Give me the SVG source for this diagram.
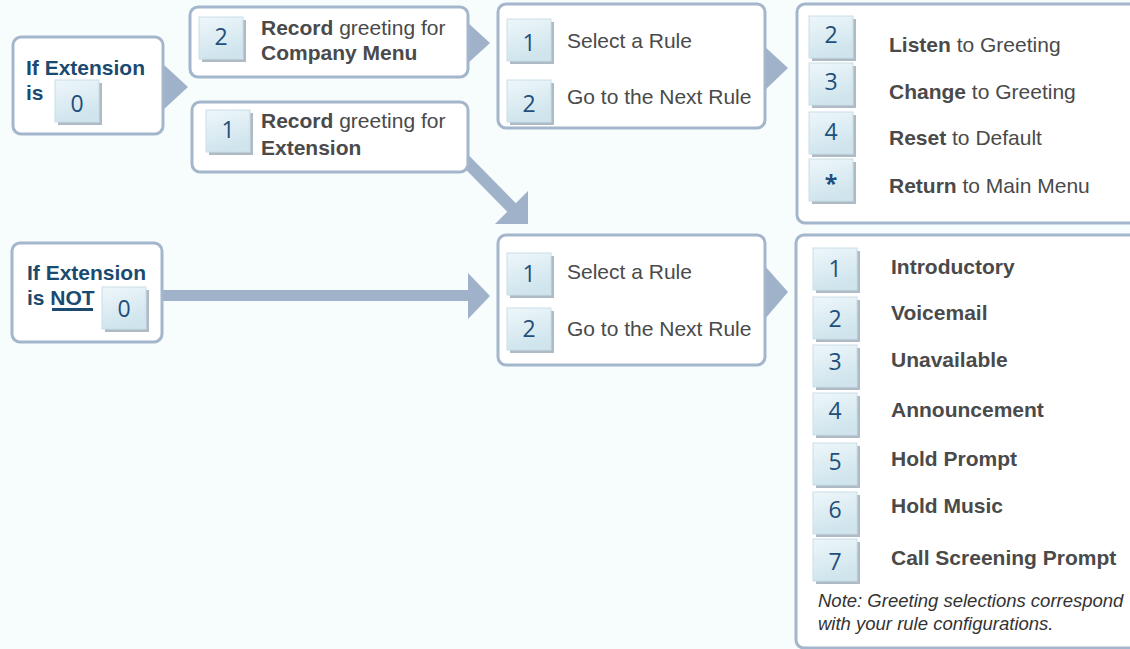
<svg xmlns="http://www.w3.org/2000/svg" width="1130" height="649" viewBox="0 0 1130 649">
<defs>
<linearGradient id="kg" x1="0" y1="0" x2="0.3" y2="1">
<stop offset="0" stop-color="#eef7fa"/>
<stop offset="1" stop-color="#cfe4ed"/>
</linearGradient>
<style>
.box{fill:#ffffff;stroke:#a3b6cc;stroke-width:3}
.arr{fill:#9fb2c9}
.ks{fill:#aebbc4}
.kf{fill:url(#kg);stroke:#c9dee7;stroke-width:1}
.kd{font-family:"Open Sans","DejaVu Sans",sans-serif;font-size:23px;fill:#1f4f7a;text-anchor:middle}
.hd{font-family:"Liberation Sans",Arial,sans-serif;font-size:21px;font-weight:bold;fill:#1b4a70}
.tx{font-family:"Liberation Sans",Arial,sans-serif;font-size:21px;fill:#4a4a4a}
.b{font-weight:bold}
.note{font-family:"Liberation Sans",Arial,sans-serif;font-size:18.5px;font-style:italic;fill:#333333}
</style>
<g id="key">
<rect class="ks" x="3" y="3" width="44" height="42"/>
<rect class="kf" x="0" y="0" width="44" height="42"/>
</g>
</defs>
<rect x="0" y="0" width="1130" height="649" fill="#f7fcfd"/>

<g id="connectors">
<polygon class="arr" points="163,64 188,87 163,110"/>
<polygon class="arr" points="467,22 490,43 467,64"/>
<polygon class="arr" points="764,46 788,68 764,91"/>
<rect class="arr" x="160" y="290" width="310" height="11"/>
<polygon class="arr" points="468,273 490,296 468,319"/>
<polygon class="arr" points="764,265 788,292 764,320"/>
<line x1="462" y1="157" x2="513" y2="209" stroke="#9fb2c9" stroke-width="12"/>
<polygon class="arr" points="495,224 528,224 528,191"/>
</g>

<g id="node-ext-is-0">
<rect class="box" x="13" y="37" width="150" height="97" rx="8"/>
<text class="hd" x="26" y="75">If Extension</text>
<text class="hd" x="26" y="100">is</text>
<use href="#key" x="55" y="80"/>
<text class="kd" x="77" y="112">0</text>
</g>

<g id="node-record-company">
<rect class="box" x="190" y="7" width="278" height="70" rx="8"/>
<use href="#key" x="199" y="17"/>
<text class="kd" x="221" y="45">2</text>
<text class="tx" x="261" y="35"><tspan class="b">Record</tspan> greeting for</text>
<text class="tx b" x="261" y="60">Company Menu</text>
</g>

<g id="node-record-extension">
<rect class="box" x="192" y="102" width="276" height="70" rx="8"/>
<use href="#key" x="206" y="110"/>
<text class="kd" x="228" y="138">1</text>
<text class="tx" x="261" y="128"><tspan class="b">Record</tspan> greeting for</text>
<text class="tx b" x="261" y="155">Extension</text>
</g>

<g id="node-rules-top">
<rect class="box" x="498" y="4" width="267" height="124" rx="8"/>
<use href="#key" x="507" y="19"/>
<text class="kd" x="529" y="51">1</text>
<use href="#key" x="507" y="80"/>
<text class="kd" x="529" y="112">2</text>
<text class="tx" x="567" y="48">Select a Rule</text>
<text class="tx" x="567" y="104">Go to the Next Rule</text>
</g>

<g id="node-greeting-options">
<rect class="box" x="797" y="4" width="340" height="219" rx="8"/>
<use href="#key" x="809" y="16"/>
<text class="kd" x="831" y="43">2</text>
<use href="#key" x="809" y="63"/>
<text class="kd" x="831" y="90">3</text>
<use href="#key" x="809" y="112"/>
<text class="kd" x="831" y="140">4</text>
<use href="#key" x="809" y="159"/>
<text class="kd" x="831" y="192" style="font-weight:bold">*</text>
<text class="tx" x="889" y="52"><tspan class="b">Listen</tspan> to Greeting</text>
<text class="tx" x="889" y="99"><tspan class="b">Change</tspan> to Greeting</text>
<text class="tx" x="889" y="145"><tspan class="b">Reset</tspan> to Default</text>
<text class="tx" x="889" y="193"><tspan class="b">Return</tspan> to Main Menu</text>
</g>

<g id="node-ext-not-0">
<rect class="box" x="12" y="243" width="150" height="99" rx="8"/>
<text class="hd" x="27" y="280">If Extension</text>
<text class="hd" x="27" y="305">is NOT</text>
<rect x="52" y="308" width="41" height="3" fill="#1b4a70"/>
<use href="#key" x="102" y="287"/>
<text class="kd" x="124" y="317">0</text>
</g>

<g id="node-rules-bottom">
<rect class="box" x="498" y="235" width="267" height="130" rx="8"/>
<use href="#key" x="507" y="253"/>
<text class="kd" x="529" y="282">1</text>
<use href="#key" x="507" y="308"/>
<text class="kd" x="529" y="337">2</text>
<text class="tx" x="567" y="279">Select a Rule</text>
<text class="tx" x="567" y="336">Go to the Next Rule</text>
</g>

<g id="node-greeting-types">
<rect class="box" x="796" y="235" width="345" height="413" rx="8"/>
<use href="#key" x="813" y="248"/>
<text class="kd" x="835" y="277">1</text>
<use href="#key" x="813" y="297"/>
<text class="kd" x="835" y="327">2</text>
<use href="#key" x="813" y="345"/>
<text class="kd" x="835" y="370">3</text>
<use href="#key" x="813" y="393"/>
<text class="kd" x="835" y="419">4</text>
<use href="#key" x="813" y="443"/>
<text class="kd" x="835" y="470">5</text>
<use href="#key" x="813" y="492"/>
<text class="kd" x="835" y="518">6</text>
<use href="#key" x="813" y="539"/>
<text class="kd" x="835" y="570">7</text>
<text class="tx b" x="891" y="274">Introductory</text>
<text class="tx b" x="891" y="320">Voicemail</text>
<text class="tx b" x="891" y="367">Unavailable</text>
<text class="tx b" x="891" y="417">Announcement</text>
<text class="tx b" x="891" y="466">Hold Prompt</text>
<text class="tx b" x="891" y="513">Hold Music</text>
<text class="tx b" x="891" y="565">Call Screening Prompt</text>
<text class="note" x="818" y="607">Note: Greeting selections correspond</text>
<text class="note" x="818" y="630">with your rule configurations.</text>
</g>
</svg>
